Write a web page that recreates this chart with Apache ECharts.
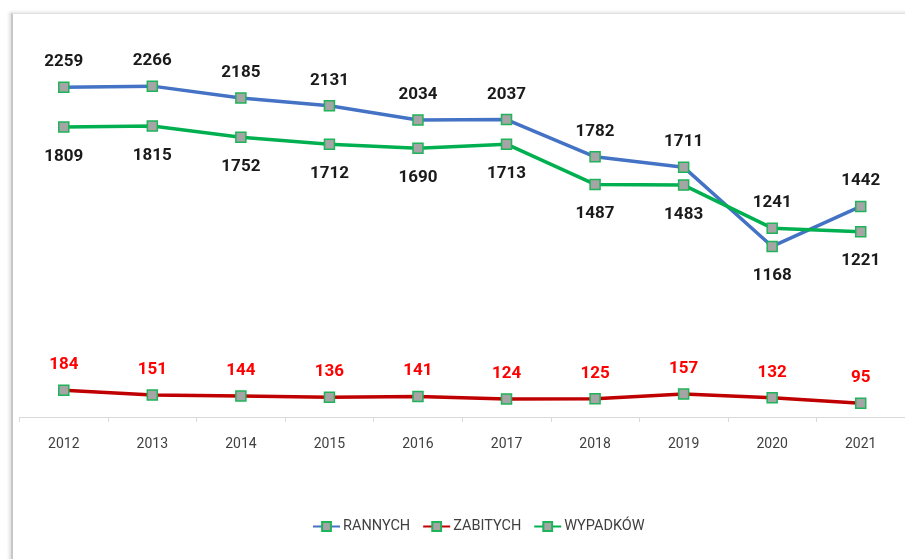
<!DOCTYPE html>
<html>
<head>
<meta charset="utf-8">
<script src="https://cdn.jsdelivr.net/npm/echarts@6/dist/echarts.min.js"></script>
<style>
  html, body { margin: 0; padding: 0; background: #fff; }
  #frame {
    position: absolute; left: 11px; top: 13px; width: 900px; height: 560px;
    border-left: 2px solid #c8c8c8; border-top: 1px solid #e2e2e2;
    box-shadow: -2px -1px 3px rgba(0,0,0,0.12);
  }
  #chart { position: absolute; left: 0; top: 0; width: 905px; height: 559px; }
</style>
</head>
<body>
<div id="frame"></div>
<div id="chart"></div>
<script>
const years = ["2012", "2013", "2014", "2015", "2016", "2017", "2018", "2019", "2020", "2021"];
const rannych = [2259, 2266, 2185, 2131, 2034, 2037, 1782, 1711, 1168, 1442];
const zabitych = [184, 151, 144, 136, 141, 124, 125, 157, 132, 95];
const wypadkow = [1809, 1815, 1752, 1712, 1690, 1713, 1487, 1483, 1241, 1221];

const chart = echarts.init(document.getElementById("chart"));

const FONT = "Roboto";
const markerStyle = { color: "#a5a5a5", borderColor: "#1fb35a", borderWidth: 1.5 };

// top labels sit a bit closer to the line than bottom ones
function labelled(values, defaultPos, overrides) {
  return values.map((v, i) => {
    const pos = overrides[i] || defaultPos;
    return { value: v, label: { position: pos, distance: pos === "top" ? 11 : 15 } };
  });
}

function lineSeries(name, color, data, yAxisIndex, labelColor) {
  return {
    name,
    type: "line",
    yAxisIndex,
    data,
    symbol: "rect",
    symbolSize: 10,
    lineStyle: { color, width: 3.5 },
    itemStyle: Object.assign({}, markerStyle),
    label: {
      show: true,
      color: labelColor,
      fontFamily: FONT,
      fontWeight: "bold",
      fontSize: 17,
    },
    emphasis: { disabled: true },
    z: 3,
  };
}

chart.setOption({
  animation: false,
  textStyle: { fontFamily: FONT },
  grid: { left: 19.5, right: -6.5, top: 60, bottom: 142 },
  xAxis: {
    type: "category",
    data: years,
    boundaryGap: true,
    axisLine: { lineStyle: { color: "#d9d9d9", width: 1 } },
    axisTick: { show: true, length: 5, lineStyle: { color: "#d9d9d9" } },
    axisLabel: { color: "#404040", fontSize: 14, margin: 20, fontFamily: FONT },
  },
  yAxis: [
    { type: "value", min: 0, max: 2445, show: false, splitLine: { show: false } },
    { type: "value", min: 180, max: 2186, show: false, splitLine: { show: false } },
  ],
  legend: {
    bottom: 20,
    left: 307,
    itemWidth: 27,
    itemHeight: 11,
    itemGap: 12,
    textStyle: { color: "#404040", fontSize: 14.5, fontFamily: FONT, padding: [0, 0, 0, -2] },
    data: ["RANNYCH", "ZABITYCH", "WYPADKÓW"],
  },
  series: [
    lineSeries("RANNYCH", "#4472c4", labelled(rannych, "top", { 8: "bottom" }), 0, "#1a1a1a"),
    lineSeries("ZABITYCH", "#c00000", labelled(zabitych, "top", {}), 0, "#ff0000"),
    lineSeries("WYPADKÓW", "#00b050", labelled(wypadkow, "bottom", { 8: "top" }), 1, "#1a1a1a"),
  ],
});
</script>
</body>
</html>
